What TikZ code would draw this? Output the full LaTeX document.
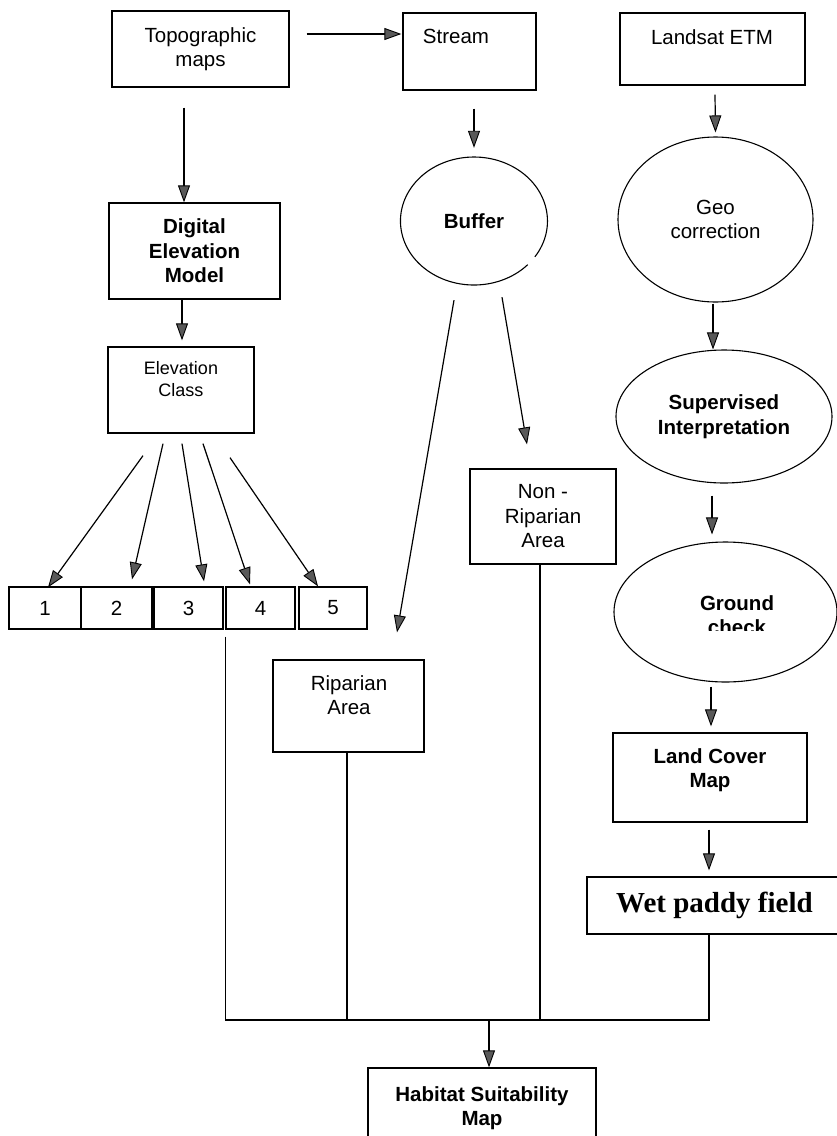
\documentclass[tikz,border=0pt]{standalone}
\usepackage{fontspec}
\setmainfont{Liberation Sans}
\newfontfamily\wetfont{Liberation Serif}
\usetikzlibrary{arrows.meta,shapes.geometric,calc}
\begin{document}
\begin{tikzpicture}[x=1pt,y=-1pt,
  box/.style={draw, rectangle, line width=1.3pt, inner sep=0pt},
  oval/.style={draw, ellipse, line width=1.1pt, inner sep=0pt},
  txt/.style={inner sep=0pt, align=center, font=\fontsize{20.5}{24.5}\selectfont},
  btxt/.style={inner sep=0pt, align=center, font=\fontsize{20.5}{24.5}\selectfont\bfseries},
  arr/.style={line width=1.2pt, -{Triangle[length=17pt,width=12pt,fill=black!65,line width=0.9pt]}},
  ln/.style={line width=1.2pt}]
\clip (0,0) rectangle (837,1136);
\fill[white] (0,0) rectangle (837,1136);

% top row
\node[box, txt, minimum width=177pt, minimum height=76pt] (topo) at (200.5,49) {Topographic\\maps};
\node[box, minimum width=133pt, minimum height=77pt] (stream) at (469.5,51.5) {};
\node[txt] (stream-t) at (456,36) {Stream};
\node[box, minimum width=185pt, minimum height=72pt] (landsat) at (712.5,49) {};
\node[txt] (landsat-t) at (712,37) {Landsat ETM};

% left column
\node[box, btxt, minimum width=171pt, minimum height=96pt] (dem) at (194.5,251) {Digital\\Elevation\\Model};
\node[box, minimum width=146pt, minimum height=86pt] (elev) at (181,390) {};
\node[txt, font=\fontsize{18}{22}\selectfont] (elev-t) at (181,379) {Elevation\\Class};

\node[box, txt, minimum width=72pt, minimum height=42pt] (b1) at (45,608) {1};
\node[box, txt, minimum width=71pt, minimum height=42pt] (b2) at (116.5,608) {2};
\node[box, txt, minimum width=69pt, minimum height=42pt] (b3) at (188.5,608) {3};
\node[box, txt, minimum width=69pt, minimum height=42pt] (b4) at (260.5,608) {4};
\node[box, txt, minimum width=68pt, minimum height=42pt] (b5) at (333,608) {5};

% middle column
\node[ellipse, btxt, minimum width=147pt, minimum height=128pt] (buffer) at (474,221) {Buffer};
\draw[line width=1.1pt] ($(buffer.center)+(60.9,35.8)$) arc[start angle=-34, end angle=317, x radius=73.5pt, y radius=64pt];
\node[box, txt, minimum width=146pt, minimum height=95pt] (nonrip) at (543,516.5) {Non -\\Riparian\\Area};
\node[box, minimum width=151pt, minimum height=92pt] (rip) at (348.5,706) {};
\node[txt] (rip-t) at (349,695) {Riparian\\Area};

% right column
\node[oval, txt, minimum width=195pt, minimum height=165pt] (geo) at (715.5,219.5) {Geo\\correction};
\node[oval, btxt, minimum width=216pt, minimum height=133pt] (sup) at (724,416.5) {Supervised\\Interpretation};
\node[oval, minimum width=223pt, minimum height=140pt] (ground) at (725.5,612) {};
\begin{scope}
  \clip (600,540) rectangle (837,630);
  \node[btxt] (ground-t) at (737,615) {Ground\\check};
\end{scope}
\node[box, minimum width=194pt, minimum height=89pt] (land) at (710,777.5) {};
\node[btxt] (land-t) at (710,770) {Land Cover\\Map};
\node[box, minimum width=255pt, minimum height=57pt, font=\wetfont\bfseries\fontsize{29}{34}\selectfont] (wet) at (714.5,905.5) {Wet paddy field};

% bottom
\node[box, btxt, minimum width=228pt, minimum height=80pt] (hab) at (482,1108) {Habitat Suitability\\Map};

% arrows
\draw[arr] ([shift={(17,-15)}]topo.east) -- ([shift={(-1,-17.5)}]stream.west);
\draw[arr] ([shift={(-16.5,20)}]topo.south) -- ([shift={(-10.5,0)}]dem.north);
\draw[arr] ([shift={(-12.5,0)}]dem.south) -- ([shift={(1,-6)}]elev.north);
\draw[arr] ([shift={(-38,22)}]elev.south) -- ([shift={(3,1)}]b1.north);
\draw[arr] ([shift={(-18,10)}]elev.south) -- ([shift={(15.5,-7)}]b2.north);
\draw[arr] ([shift={(1,10)}]elev.south) -- ([shift={(15.5,-5)}]b3.north);
\draw[arr] ([shift={(22,10)}]elev.south) -- ([shift={(-10.5,-2)}]b4.north);
\draw[arr] ([shift={(49,24)}]elev.south) -- ([shift={(-15,0)}]b5.north);

\draw[arr] ([shift={(4.5,18)}]stream.south) -- ([shift={(0,-9)}]buffer.north);
\draw[arr] ([shift={(-20,15)}]buffer.south) -- ([shift={(48.5,-27)}]rip.north);
\draw[arr] ([shift={(28,12)}]buffer.south) -- ([shift={(-16,-24)}]nonrip.north);

\draw[arr] ([shift={(2.5,9)}]landsat.south) -- ([shift={(0,-4)}]geo.north);
\draw[arr] ([shift={(-2.5,1)}]geo.south) -- ([shift={(-11,0)}]sup.north);
\draw[arr] ([shift={(-12,12)}]sup.south) -- ([shift={(-13.5,-7)}]ground.north);
\draw[arr] ([shift={(-14.5,4)}]ground.south) -- ([shift={(1,-6)}]land.north);
\draw[arr] ([shift={(-1,7)}]land.south) -- ([shift={(-5.5,-6)}]wet.north);

% collector lines
\coordinate (bus) at (489,1020);
\coordinate (wd) at ([shift={(-5.5,0)}]wet.south);
\coordinate (rd) at ([shift={(-1.5,0)}]rip.south);
\coordinate (nd) at ([shift={(-3,0)}]nonrip.south);
\draw[ln] ([shift={(0,7)}]b4.south west) -- (b4.south west |- bus) -- (bus -| wd) -- (wd);
\draw[ln] (rd) -- (rd |- bus);
\draw[ln] (nd) -- (nd |- bus);
\draw[arr] (bus) -- ([shift={(7,0)}]hab.north);
\end{tikzpicture}
\end{document}
